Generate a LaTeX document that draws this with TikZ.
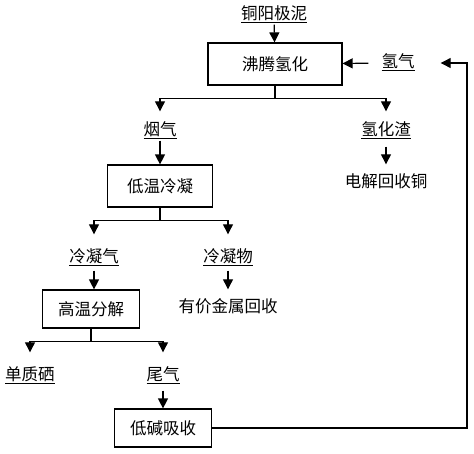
\documentclass[tikz,border=0pt]{standalone}
\usepackage{fontspec}
\newfontfamily\cjk{Noto Sans CJK SC}
\usetikzlibrary{positioning}
\usetikzlibrary{arrows.meta}
\newcommand{\ulbl}[1]{\setbox0\hbox{#1}\leavevmode\rlap{\rule[-3pt]{\wd0}{1pt}}\box0}

\begin{document}
\begin{tikzpicture}[x=1pt,y=-1pt,
		font=\cjk\fontsize{16.5}{19}\selectfont,
		proc/.style={draw,rectangle,line width=1.2pt,minimum height=42pt,inner sep=2pt},
		lbl/.style={inner sep=1pt,text height=13pt,text depth=4pt},
		arr/.style={-{Triangle[length=10pt,width=10pt]},line width=1.2pt},
		ln/.style={line width=1.2pt}]
		\useasboundingbox (0,0) rectangle (474,453);
		\node[lbl] (mud) at (274,15) {\ulbl{铜阳极泥}};
		\node[proc,minimum width=134pt] (boil) at (275,64) {沸腾氢化};
		\node[lbl] (h2) at (398,63) {\ulbl{氢气}};
		\coordinate[right=25pt of h2] (h2in);
		\node[lbl] (fume) at (160,131) {\ulbl{烟气}};
		\node[lbl] (slag) at (386,131) {\ulbl{氢化渣}};
		\node[lbl] (cu) at (386,183) {电解回收铜};
		\node[proc,minimum width=105pt] (cool) at (160,186) {低温冷凝};
		\node[lbl] (cgas) at (94,258) {\ulbl{冷凝气}};
		\node[lbl] (cmat) at (228,258) {\ulbl{冷凝物}};
		\node[proc,minimum width=97pt,minimum height=38pt] (pyro) at (91,309) {高温分解};
		\node[lbl] (metal) at (228,308) {有价金属回收};
		\node[lbl] (se) at (30,376) {\ulbl{单质硒}};
		\node[lbl] (tail) at (163,376) {\ulbl{尾气}};
		\node[proc,minimum width=97pt,minimum height=38pt] (absorb) at (163,428) {低碱吸收};
		\coordinate (ret) at (467,428);
		% main line
		\draw[arr] (mud) -- (boil);
		\draw[arr,shorten <=12pt] (h2) -- (boil);
		\draw[ln] (boil.south) -- ++(0,13) coordinate (bs);
		\draw[arr,shorten >=10pt] (bs) -| (fume);
		\draw[arr,shorten >=10pt] (bs) -| (slag);
		\draw[arr,shorten <=6pt,shorten >=9pt] (slag) -- (cu);
		\draw[arr] (fume) -- (cool);
		% condensation
		\draw[ln] (cool.south) -- ++(0,13) coordinate (cs);
		\draw[arr,shorten >=14pt] (cs) -| (cgas);
		\draw[arr,shorten >=14pt] (cs) -| (cmat);
		\draw[arr,shorten <=3pt] (cgas) -- (cgas |- pyro.north);
		\draw[arr,shorten <=3pt,shorten >=9pt] (cmat) -- (metal);
		% decomposition
		\draw[ln] (pyro.south) -- ++(0,13) coordinate (ps);
		\draw[arr,shorten >=14pt] (ps) -| (se);
		\draw[arr,shorten >=14pt] (ps) -| (tail);
		\draw[arr,shorten <=5pt] (tail) -- (absorb);
		% hydrogen return
		\draw[arr] (absorb.east) -- (ret) |- (h2in);
\end{tikzpicture}
\end{document}
